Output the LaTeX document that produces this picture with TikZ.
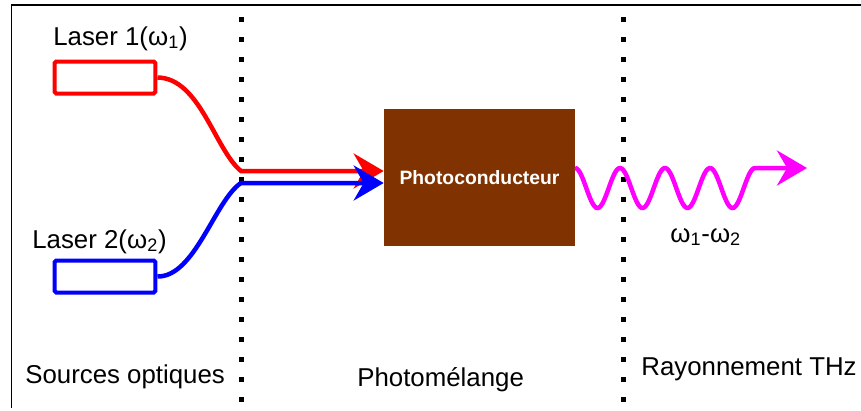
\documentclass[tikz,border=0pt]{standalone}
\usepackage{fontspec}
\setmainfont{Liberation Sans}
\usetikzlibrary{arrows.meta, positioning}
\definecolor{brunpc}{RGB}{128,51,0}
\definecolor{rougel}{RGB}{255,0,0}
\definecolor{bleul}{RGB}{0,0,255}
\definecolor{magthz}{RGB}{255,0,255}

\begin{document}
\begin{tikzpicture}[x=0.02cm, y=-0.02cm, >={Stealth[length=6mm, width=7mm, inset=2mm]}]
    % Styles
    \tikzstyle{laser} = [draw, rectangle, line width=0.08cm, rounded corners=1pt, minimum width=2.02cm, minimum height=0.64cm]
    \tikzstyle{fibre} = [line width=0.09cm]
    \tikzstyle{sep} = [line width=0.1cm, dash pattern=on 0.1cm off 0.3cm]
    \tikzstyle{txt} = [anchor=base west, inner sep=0pt, font=\fontsize{14.7}{17}\selectfont]

    \useasboundingbox (0,0) rectangle (861,410);

    % Cadre
    \draw[line width=0.04cm] (861,5) -- (11,5);
    \draw[line width=0.02cm] (11,5) -- (11,408);

    % Separateurs
    \draw[sep] (241,17) -- (241,402);
    \draw[sep] (623,17) -- (623,402);

    % Noeuds
    \node[laser, draw=rougel] (laserA) at (105,77.5) {};
    \node[laser, draw=bleul] (laserB) at (105,276.5) {};
    \node[fill=brunpc, minimum width=3.82cm, minimum height=2.74cm, text=white,
          font=\bfseries\fontsize{11}{13}\selectfont] (mixer) at (479.5,177.5) {Photoconducteur};

    \coordinate (joinA) at (241,171);
    \coordinate (joinB) at (241,183);
    \coordinate (thz) at (807,168);

    % Fibres
    \draw[fibre, rougel, ->] (laserA.east) .. controls (200,78) and (215,150) .. (joinA) -- (joinA -| mixer.west);
    \draw[fibre, bleul, ->] (laserB.east) .. controls (195,277) and (215,200) .. (joinB) -- (joinB -| mixer.west);

    % Onde THz
    \draw[fibre, magthz, ->] plot[domain=0:4, samples=120] ({575+45*\x},{188-20*cos(360*\x)}) -- (thz);

    % Textes
    \node[txt] (labA) at (53,45) {Laser 1(ω\textsubscript{1})};
    \node[txt] (labB) at (32,248) {Laser 2(ω\textsubscript{2})};
    \node[txt] (labW) at (670,242) {ω\textsubscript{1}-ω\textsubscript{2}};
    \node[txt] (zoneA) at (25,383) {Sources optiques};
    \node[txt] (zoneB) at (357,386) {Photomélange};
    \node[txt] (zoneC) at (641,375) {Rayonnement THz};

\end{tikzpicture}
\end{document}
